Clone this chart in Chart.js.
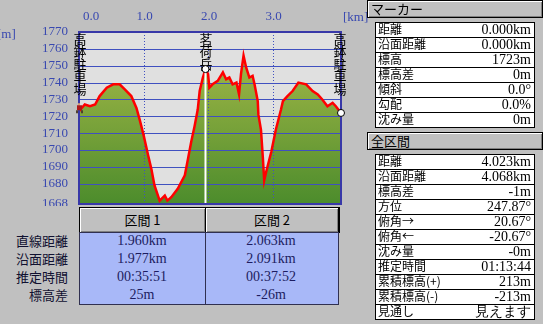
<!DOCTYPE html>
<html><head><meta charset="utf-8">
<script src="https://cdn.jsdelivr.net/npm/chart.js@4"></script>
<style>
body{margin:0;background:#c0c0c0;width:543px;height:324px;overflow:hidden;position:relative;font-family:"Noto Sans CJK JP",sans-serif;}
#cv{position:absolute;left:0;top:0;}
.unit{position:absolute;color:#3848b0;font:13px "Liberation Serif",serif;line-height:14px;white-space:nowrap;}
.hdr{position:absolute;background:#c0c0c0;border:1px solid #000;box-shadow:inset 1px 1px #fff,inset -1px -1px #808080;box-sizing:border-box;font-size:13px;line-height:15px;color:#000;white-space:nowrap;}
.tbl{position:absolute;left:375px;width:160px;background:#fff;border:1px solid #000;box-sizing:border-box;}
.row{position:relative;height:15px;border-top:1px solid #000;box-sizing:border-box;}
.row:first-child{border-top:none;height:14px;}
.row .l{position:absolute;left:2px;top:-2px;font-size:12px;line-height:16px;color:#000;}
.row .v{position:absolute;right:3px;top:-1px;font:14px "Liberation Serif",serif;line-height:15px;color:#000;}
.sec{position:absolute;left:79px;top:232px;width:260px;height:73px;background:#a8b8f8;border:1px solid #303050;box-sizing:border-box;}
.div{position:absolute;left:125px;top:0;width:1px;height:71px;background:#303050;}
.sl{position:absolute;right:475px;font-size:13px;line-height:18px;color:#101030;white-space:nowrap;}
.sv{position:absolute;width:126px;text-align:center;font:14px "Liberation Serif",serif;line-height:18px;color:#1c1c60;}
</style></head>
<body>
<canvas id="cv" width="360" height="206"></canvas>
<div class="unit" style="left:-3px;top:27px;">[m]</div>
<div class="unit" style="left:343px;top:10px;">[km]</div>
<div id="ui"></div>
<script>
// ---- data ----
const distKm = [0.00,0.09,0.17,0.25,0.32,0.43,0.53,0.63,0.71,0.81,0.89,0.94,1.00,1.07,1.12,1.17,1.25,1.33,1.37,1.43,1.53,1.64,1.69,1.74,1.79,1.84,1.87,1.92,1.96,2.00,2.02,2.07,2.15,2.23,2.28,2.33,2.38,2.44,2.48,2.51,2.55,2.59,2.64,2.69,2.72,2.77,2.78,2.82,2.85,2.87,2.90,2.98,3.05,3.13,3.16,3.23,3.31,3.40,3.52,3.62,3.70,3.77,3.85,3.93,3.98,4.06];
const elevM  = [1723,1727,1726,1727,1732,1737,1739,1739,1736,1732,1725,1718,1709,1697,1689,1679,1670,1673,1670,1672,1677,1685,1695,1705,1714,1724,1735,1743,1748,1745,1737,1739,1741,1746,1742,1743,1739,1740,1733,1745,1756,1749,1743,1744,1739,1729,1721,1712,1695,1682,1687,1699,1712,1724,1729,1732,1735,1740,1739,1735,1733,1730,1726,1728,1726,1722];
const yTicks = [1668,1680,1690,1700,1710,1720,1730,1740,1750,1760,1770];
const xTicks = [0,1,2,3];
const xTickLabels = ['0.0','1.0','2.0','3.0'];
const placeNames = ['高鉢駐車場','茗荷岳','高鉢駐車場'];
const placeKm = [0, 1.96, 4.06];
const placeElev = [1723, 1748, 1722];
const markerLabels = ['距離','沿面距離','標高','標高差','傾斜','勾配','沈み量'];
const markerValues = ['0.000km','0.000km','1723m','0m','0.0°','0.0%','0m'];
const totalLabels = ['距離','沿面距離','標高差','方位','俯角→','俯角←','沈み量','推定時間','累積標高(+)','累積標高(-)','見通し'];
const totalValues = ['4.023km','4.068km','-1m','247.87° ','20.67° ','-20.67° ','-0m','01:13:44','213m','-213m','見えます'];
const sectionNames = ['区間 1','区間 2'];
const sectionRowLabels = ['直線距離','沿面距離','推定時間','標高差'];
const section1Values = ['1.960km','1.977km','00:35:51','25m'];
const section2Values = ['2.063km','2.091km','00:37:52','-26m'];

// ---- HTML panels ----
const ui = document.getElementById('ui');
function el(tag, cls, style, text){const e=document.createElement(tag);if(cls)e.className=cls;if(style)e.setAttribute('style',style);if(text!==undefined)e.textContent=text;return e;}
ui.appendChild(el('div','hdr','left:367px;top:0;width:176px;height:18px;padding-left:3px;','マーカー'));
ui.appendChild(el('div','hdr','left:367px;top:132px;width:176px;height:18px;padding-left:3px;','全区間'));
function table(top, labels, values){
  const t = el('div','tbl','top:'+top+'px;height:'+(labels.length*15+1)+'px;');
  labels.forEach((l,i)=>{const r=el('div','row');r.appendChild(el('span','l',null,l));r.appendChild(el('span','v',null,values[i]));t.appendChild(r);});
  ui.appendChild(t);
}
table(22, markerLabels, markerValues);
table(154, totalLabels, totalValues);
ui.appendChild(el('div','hdr','left:79px;top:207px;width:127px;height:26px;text-align:center;line-height:23px;',sectionNames[0]));
ui.appendChild(el('div','hdr','left:205px;top:207px;width:135px;height:26px;text-align:center;line-height:23px;border-right:2px solid #000;',sectionNames[1]));
const sec = el('div','sec'); sec.appendChild(el('div','div')); ui.appendChild(sec);
sectionRowLabels.forEach((l,i)=>{
  ui.appendChild(el('div','sl','top:'+(232+i*18)+'px;',l));
  ui.appendChild(el('div','sv','left:79px;top:'+(232+i*18)+'px;',section1Values[i]));
  ui.appendChild(el('div','sv','left:208px;top:'+(232+i*18)+'px;',section2Values[i]));
});

// ---- chart ----
const pts = distKm.map((x,i)=>({x, y: elevM[i]}));
const blue = '#4050c0';
const deco = {
  id:'deco',
  beforeDraw(chart){
    const {ctx, chartArea:a} = chart;
    ctx.save(); ctx.fillStyle='#e0e0e0'; ctx.fillRect(a.left,a.top,a.right-a.left,a.bottom-a.top); ctx.restore();
  },
  beforeDatasetDraw(chart, args){
    if(args.index!==0) return;
    const {ctx, chartArea:a, scales:{x,y}} = chart;
    ctx.save();
    ctx.strokeStyle=blue; ctx.lineWidth=1;
    yTicks.forEach(v=>{ if(v===yTicks[0]||v===yTicks[yTicks.length-1]) return;
      const py=Math.round(y.getPixelForValue(v))+0.5; ctx.beginPath(); ctx.moveTo(a.left,py); ctx.lineTo(a.right,py); ctx.stroke(); });
    ctx.setLineDash([1,2]);
    xTicks.forEach(v=>{ if(v===0) return; const px=Math.round(x.getPixelForValue(v))+0.5; ctx.beginPath(); ctx.moveTo(px,a.top); ctx.lineTo(px,a.bottom); ctx.stroke(); });
    ctx.restore();
  },
  afterDatasetsDraw(chart){
    const {ctx, chartArea:a, scales:{x,y}} = chart;
    ctx.save();
    const mx = x.getPixelForValue(placeKm[1]);
    ctx.strokeStyle='#fff'; ctx.lineWidth=2;
    ctx.beginPath(); ctx.moveTo(mx, y.getPixelForValue(placeElev[1])); ctx.lineTo(mx, a.bottom); ctx.stroke();
    ctx.strokeStyle='#3838a8'; ctx.lineWidth=2;
    ctx.strokeRect(a.left, a.top, a.right-a.left, a.bottom-a.top);
    ctx.fillStyle='#3848b0'; ctx.font='13px "Liberation Serif", serif'; ctx.textBaseline='middle';
    xTicks.forEach((v,i)=>{ const px=x.getPixelForValue(v);
      if(i===0){ctx.textAlign='left'; ctx.fillText(xTickLabels[i], px+4, 17);} else {ctx.textAlign='center'; ctx.fillText(xTickLabels[i], px+1, 17);} });
    ctx.fillStyle='#000'; ctx.font='13px "Noto Sans CJK JP", sans-serif'; ctx.textAlign='center';
    placeNames.forEach((n,k)=>{ const px=x.getPixelForValue(placeKm[k]) + (k===0?1:(k===2?-1:0.5));
      [...n].forEach((c,i)=>ctx.fillText(c, px, 39+i*12.4)); });
    [1,2].forEach(k=>{ const px=x.getPixelForValue(placeKm[k]), py=y.getPixelForValue(placeElev[k]);
      ctx.beginPath(); ctx.arc(px,py,3.5,0,Math.PI*2); ctx.fillStyle='#fff'; ctx.fill(); ctx.strokeStyle='#000'; ctx.lineWidth=1; ctx.stroke(); });
    const hx=x.getPixelForValue(placeKm[0]), hy=y.getPixelForValue(placeElev[0]);
    ctx.fillStyle='#b01818'; ctx.fillRect(hx-2,hy-6,5,5);
    ctx.fillStyle='#e0a070'; ctx.fillRect(hx-1,hy-8,2,2);
    ctx.fillStyle='#504030'; ctx.fillRect(hx-3,hy-1,2,3); ctx.fillRect(hx+2,hy-1,2,3);
    ctx.restore();
  }
};
new Chart(document.getElementById('cv'), {
  type:'line',
  data:{datasets:[
    {data:pts, borderColor:'#ff0000', borderWidth:2.5, pointRadius:0, fill:false, tension:0},
    {data:pts, borderWidth:0, borderColor:'rgba(0,0,0,0)', pointRadius:0, fill:'start', tension:0,
     backgroundColor:(c)=>{const a=c.chart.chartArea; if(!a) return '#7a9c3c';
       const g=c.chart.ctx.createLinearGradient(0,a.top,0,a.bottom); g.addColorStop(0,'#a8bc4c'); g.addColorStop(0.35,'#8cac40'); g.addColorStop(1,'#4c8c2c'); return g;}}
  ]},
  options:{
    responsive:false, animation:false, devicePixelRatio:1,
    layout:{padding:{left:0,right:19,top:0,bottom:2}},
    plugins:{legend:{display:false}, tooltip:{enabled:false}},
    scales:{
      x:{type:'linear', position:'top', min:0, max:4.06,
         grid:{display:false, drawTicks:false}, border:{display:false}, ticks:{display:false},
         afterFit(s){s.height=32; s.paddingLeft=0; s.paddingRight=0;}},
      y:{min:1668, max:1770,
         afterBuildTicks(s){s.ticks = yTicks.map(v=>({value:v}));},
         grid:{display:false, drawTicks:false}, border:{display:false},
         ticks:{color:'#3848b0', font:{family:'"Liberation Serif", serif', size:13}, padding:11, autoSkip:false, callback:(v)=>String(v)},
         afterFit(s){s.width=79; s.paddingTop=0; s.paddingBottom=0;}}
    }
  },
  plugins:[deco]
});
</script>
</body></html>
